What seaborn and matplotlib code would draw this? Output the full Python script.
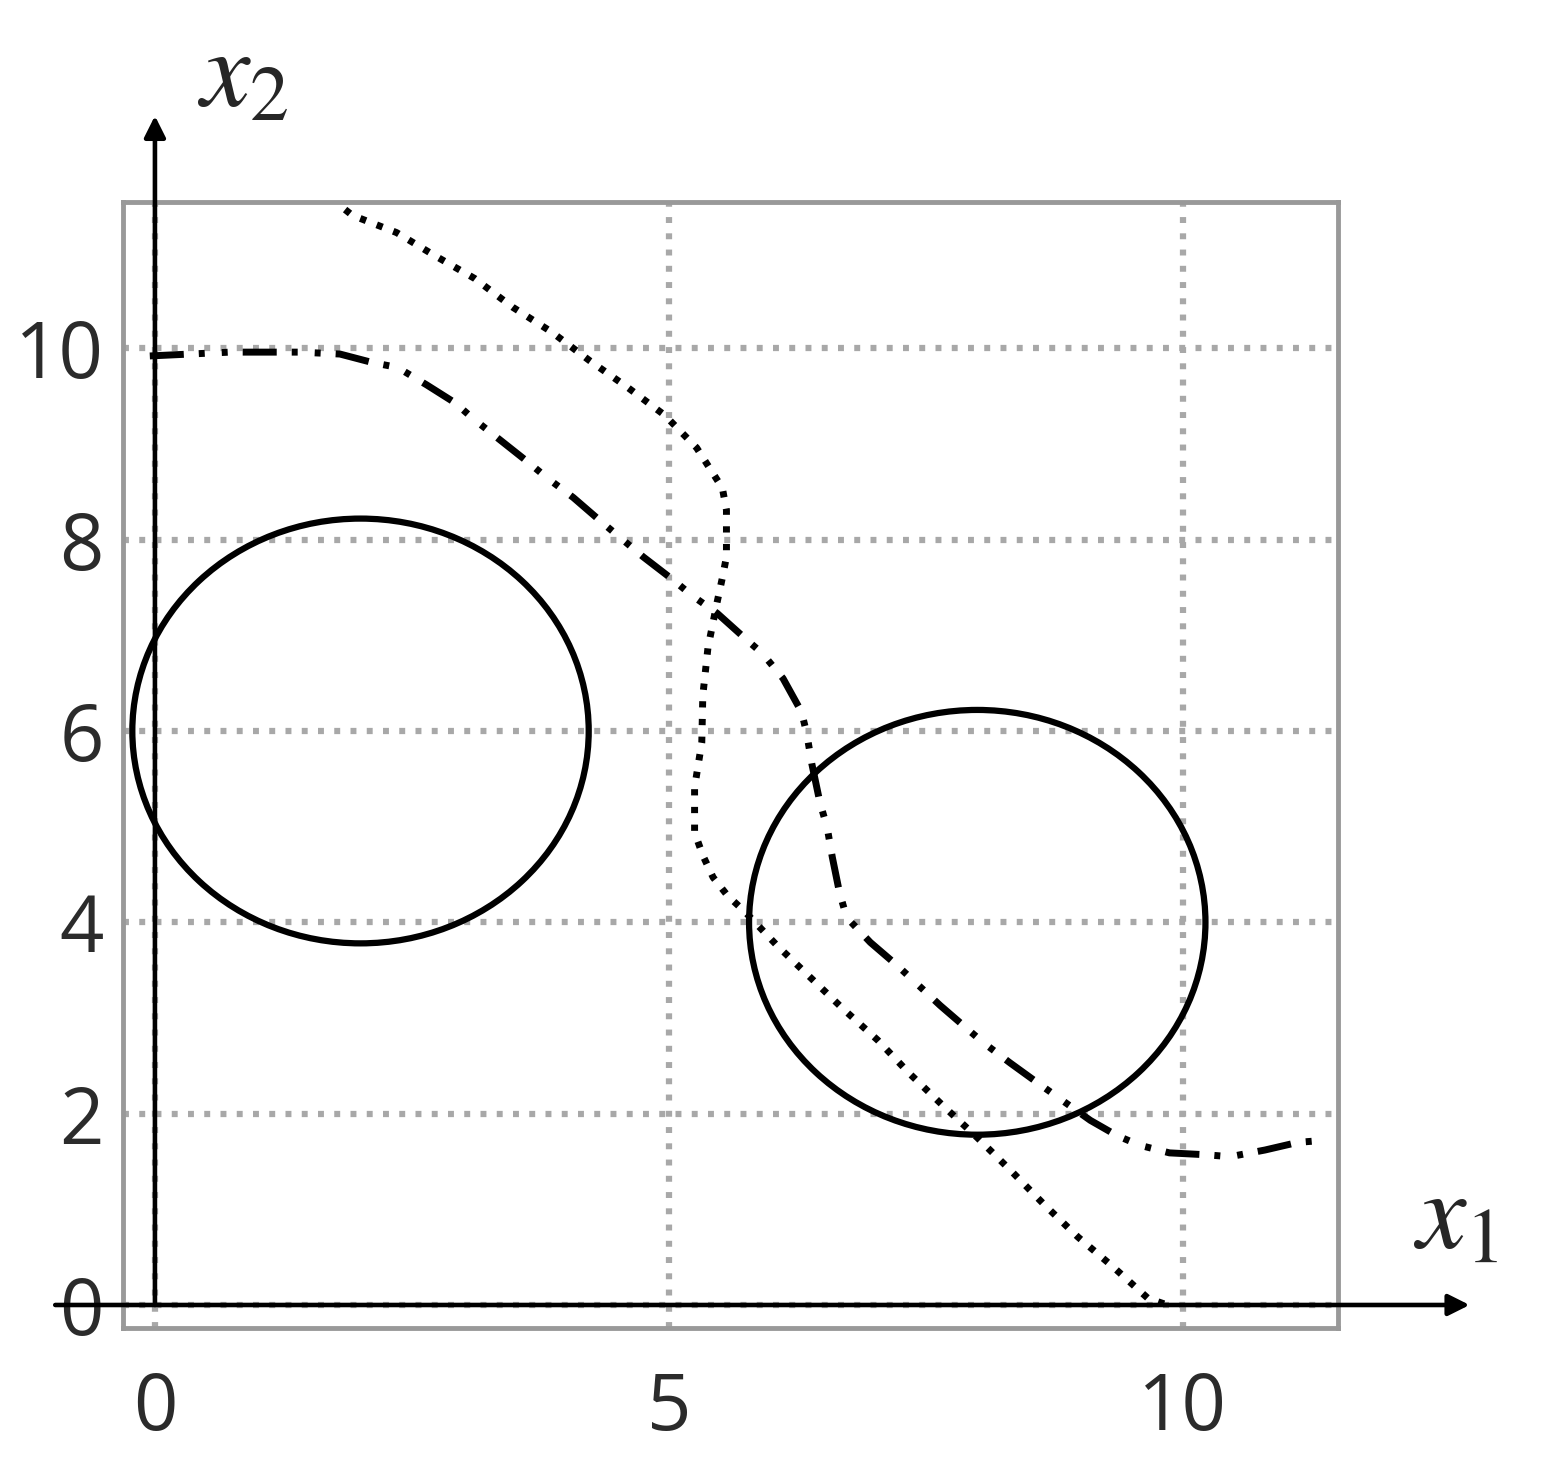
import numpy as np
import matplotlib
matplotlib.use("Agg")
import matplotlib.pyplot as plt
from matplotlib.patches import Circle
import seaborn as sns

# ---- values ----
circle_cx = [2.0, 8.0]
circle_cy = [6.0, 4.0]
circle_r = [2.22, 2.22]

# dotted curve
dot_x = [1.85, 1.92, 2.35, 2.72, 3.11, 3.48, 3.86, 4.23, 4.60, 4.96, 5.27, 5.52,
         5.56, 5.56, 5.56, 5.52, 5.47, 5.38, 5.33, 5.32, 5.25, 5.25, 5.33, 5.43,
         5.57, 5.74, 6.05, 6.37, 6.69, 7.03, 7.34, 7.68, 8.00, 8.34, 8.66, 8.98,
         9.32, 9.66, 9.85]
dot_y = [11.45, 11.39, 11.21, 10.97, 10.73, 10.43, 10.17, 9.87, 9.59, 9.30, 8.96, 8.54,
         8.31, 8.07, 7.82, 7.60, 7.35, 6.87, 6.37, 5.88, 5.41, 4.94, 4.70, 4.47,
         4.28, 4.11, 3.76, 3.43, 3.10, 2.77, 2.42, 2.07, 1.75, 1.39, 1.04, 0.71,
         0.40, 0.07, 0.0]

# dash-dot curve
dd_x = [-0.05, 0.73, 1.41, 1.80, 2.12, 2.36, 2.64, 2.92, 3.09, 3.36, 3.63, 3.81,
        4.07, 4.35, 4.75, 5.04, 5.22, 5.47, 5.76, 5.91, 6.11, 6.29, 6.34, 6.39,
        6.47, 6.54, 6.59, 6.66, 6.73, 6.96, 7.22, 7.64, 8.05, 8.32, 8.59, 9.10,
        9.36, 9.58, 9.87, 10.23, 10.46, 10.80, 11.12, 11.36]
dd_y = [9.92, 9.96, 9.96, 9.94, 9.85, 9.80, 9.62, 9.43, 9.27, 9.04, 8.81, 8.65,
        8.44, 8.18, 7.82, 7.58, 7.42, 7.23, 6.95, 6.81, 6.55, 6.20, 5.98, 5.66,
        5.25, 4.99, 4.68, 4.31, 4.05, 3.79, 3.55, 3.13, 2.75, 2.53, 2.32, 1.93,
        1.77, 1.67, 1.59, 1.57, 1.55, 1.62, 1.70, 1.72]

x_ticks = [0, 5, 10]
y_ticks = [0, 2, 4, 6, 8, 10]

# ---- style ----
sns.set_theme(style="white")
plt.rcParams["font.family"] = ["Open Sans", "DejaVu Sans"]
plt.rcParams["mathtext.fontset"] = "stix"

fig = plt.figure(figsize=(15.41, 14.58), dpi=100)
ax = fig.add_axes([0.0798, 0.0892, 0.7885, 0.7723])
ax.set_xlim(-0.311, 11.51)
ax.set_ylim(-0.24, 11.53)

ax.set_xticks(x_ticks)
ax.set_yticks(y_ticks)
ax.set_axisbelow(True)
ax.grid(True, color="#a8a8a8", lw=4.5, linestyle=(0, (0.95, 1.65)))
for sp in ax.spines.values():
    sp.set_color("#999999")
    sp.set_linewidth(3.5)
ax.tick_params(axis="both", labelsize=56, labelcolor="#2b2b2b", color="#666666",
               length=4, width=1.5, direction="out")
ax.tick_params(axis="x", pad=26)
ax.tick_params(axis="y", pad=10)

# curves
sns.lineplot(x=dot_x, y=dot_y, sort=False, estimator=None, color="black",
             lw=5, linestyle=(0, (0.9, 1.65)), ax=ax)
sns.lineplot(x=dd_x, y=dd_y, sort=False, estimator=None, color="black",
             lw=5, linestyle=(0, (4.9, 2.16, 0.86, 2.45, 0.86, 2.16)), ax=ax)

for cx, cy, r in zip(circle_cx, circle_cy, circle_r):
    ax.add_patch(Circle((cx, cy), r, fill=False, ec="black", lw=4.5))

# axis arrows
arrow = dict(arrowstyle="-|>", color="black", lw=3.3, mutation_scale=32,
             shrinkA=0, shrinkB=0)
ax.annotate("", xy=(12.79, 0), xytext=(-0.97, 0), arrowprops=arrow,
            annotation_clip=False, zorder=5)
ax.annotate("", xy=(0, 12.43), xytext=(0, 0), arrowprops=arrow,
            annotation_clip=False, zorder=5)

ax.text(12.65, 0.89, r"$x_1$", fontsize=80, ha="center", va="center", clip_on=False)
ax.text(0.85, 12.83, r"$x_2$", fontsize=80, ha="center", va="center", clip_on=False)

fig.savefig("out.png", dpi=100, facecolor="white")
